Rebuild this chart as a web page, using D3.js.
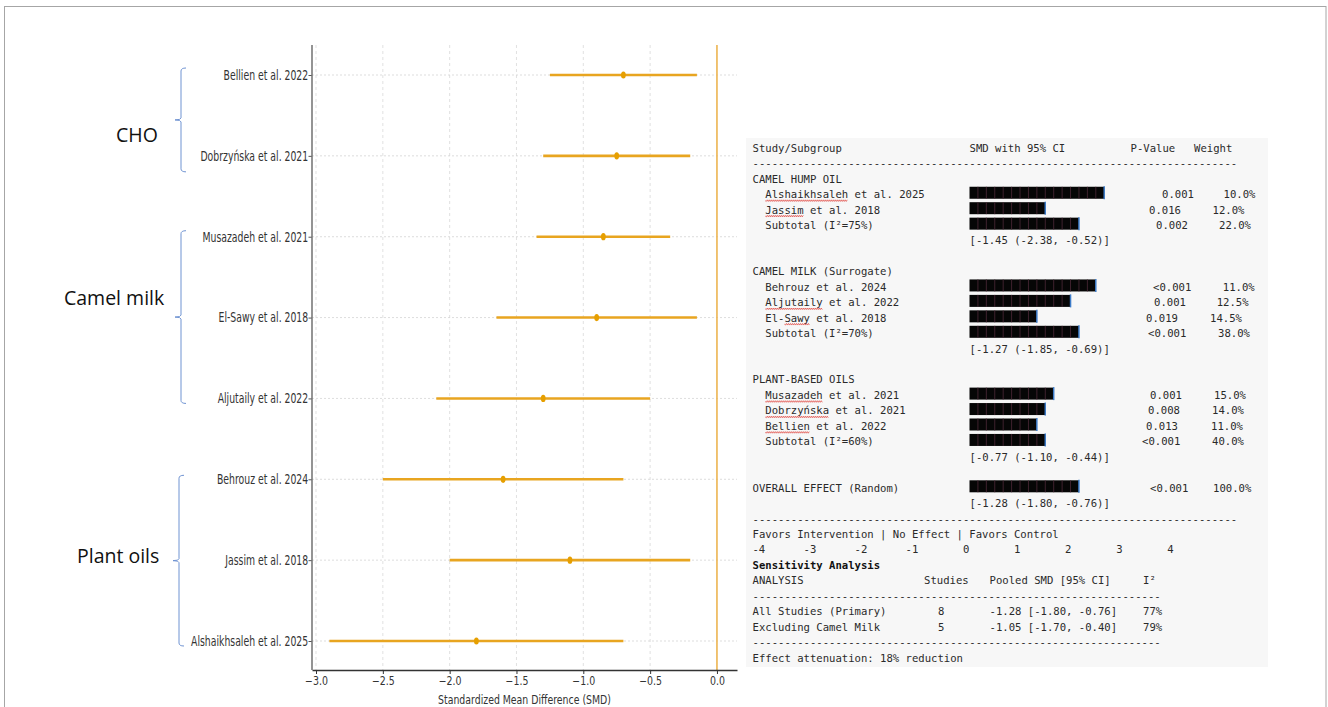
<!DOCTYPE html>
<html>
<head>
<meta charset="utf-8">
<script src="https://cdn.jsdelivr.net/npm/d3@7"></script>
<style>
body { margin: 0; background: #fff; }
svg { display: block; }
</style>
</head>
<body>
<div id="chart"></div>
<script>
// forest plot rows, top to bottom
var studies = ["Bellien et al. 2022", "Dobrzyńska et al. 2021", "Musazadeh et al. 2021", "El-Sawy et al. 2018",
  "Aljutaily et al. 2022", "Behrouz et al. 2024", "Jassim et al. 2018", "Alshaikhsaleh et al. 2025"];
var smd = [-0.7, -0.75, -0.85, -0.9, -1.3, -1.6, -1.1, -1.8];
var ciLow = [-1.25, -1.3, -1.35, -1.65, -2.1, -2.5, -2.0, -2.9];
var ciHigh = [-0.15, -0.2, -0.35, -0.15, -0.5, -0.7, -0.2, -0.7];
var xTicks = [-3.0, -2.5, -2.0, -1.5, -1.0, -0.5, 0.0];

// brace annotations on the left
var groupNames = ["CHO", "Camel milk", "Plant oils"];
var groupFirst = [0, 2, 5];
var groupLast = [1, 4, 7];

// summary table
var subgroups = ["CAMEL HUMP OIL", "CAMEL MILK (Surrogate)", "PLANT-BASED OILS"];
var subgroupStudies = [
  ["Alshaikhsaleh et al. 2025", "Jassim et al. 2018"],
  ["Behrouz et al. 2024", "Aljutaily et al. 2022", "El-Sawy et al. 2018"],
  ["Musazadeh et al. 2021", "Dobrzyńska et al. 2021", "Bellien et al. 2022"]];
var subgroupI2 = ["75%", "70%", "60%"];
var subgroupCI = ["[-1.45 (-2.38, -0.52)]", "[-1.27 (-1.85, -0.69)]", "[-0.77 (-1.10, -0.44)]"];
// bar length in block characters, last one of each group is the subtotal
var barBlocks = [[16, 9, 13], [15, 12, 8, 13], [10, 9, 8, 9]];
var pValues = [["0.001", "0.016", "0.002"], ["<0.001", "0.001", "0.019", "<0.001"], ["0.001", "0.008", "0.013", "<0.001"]];
var weights = [["10.0%", "12.0%", "22.0%"], ["11.0%", "12.5%", "14.5%", "38.0%"], ["15.0%", "14.0%", "11.0%", "40.0%"]];
var overallBlocks = 13;
var overallP = "<0.001";
var overallWeight = "100.0%";
var overallCI = "[-1.28 (-1.80, -0.76)]";
var favorsTicks = [-4, -3, -2, -1, 0, 1, 2, 3, 4];

var sensAnalysis = ["All Studies (Primary)", "Excluding Camel Milk"];
var sensStudies = [8, 5];
var sensPooled = ["-1.28 [-1.80, -0.76]", "-1.05 [-1.70, -0.40]"];
var sensI2 = ["77%", "79%"];
var misspelled = ["Alshaikhsaleh", "Jassim", "Aljutaily", "Sawy", "Musazadeh", "Dobrzyńska", "Bellien"];

var W = 1328, H = 707;
var svg = d3.select("#chart").append("svg")
  .attr("width", W)
  .attr("height", H);

svg.append("rect")
  .attr("x", 4.5).attr("y", 6.5)
  .attr("width", 1321.5).attr("height", 740)
  .attr("fill", "none")
  .attr("stroke", "#a6a6a6");

// ---------- forest plot ----------
var plotTop = 45, plotBottom = 670, plotLeft = 312, plotRight = 737;
var x = d3.scaleLinear().domain([-3.03, 0.15]).range([plotLeft, plotRight]);
var y = d3.scalePoint().domain(studies).range([75, 641]);

var sans = "'DejaVu Sans', Verdana, sans-serif";

svg.append("g").selectAll("line")
  .data(xTicks.slice(0, -1))
  .enter().append("line")
  .attr("x1", function(d) { return x(d); })
  .attr("x2", function(d) { return x(d); })
  .attr("y1", plotTop).attr("y2", plotBottom)
  .attr("stroke", "#d9d9d9")
  .attr("stroke-width", 0.8)
  .attr("stroke-dasharray", "3,3");

svg.append("g").selectAll("line")
  .data(studies)
  .enter().append("line")
  .attr("x1", plotLeft).attr("x2", plotRight)
  .attr("y1", function(d) { return y(d); })
  .attr("y2", function(d) { return y(d); })
  .attr("stroke", "#d4d4d4")
  .attr("stroke-width", 0.8)
  .attr("stroke-dasharray", "2,2");

svg.append("line")
  .attr("x1", x(0)).attr("x2", x(0))
  .attr("y1", plotTop).attr("y2", plotBottom)
  .attr("stroke", "#EDB450")
  .attr("stroke-width", 1.6);

svg.append("g").selectAll("line")
  .data(studies)
  .enter().append("line")
  .attr("x1", function(d, i) { return x(ciLow[i]); })
  .attr("x2", function(d, i) { return x(ciHigh[i]); })
  .attr("y1", function(d) { return y(d); })
  .attr("y2", function(d) { return y(d); })
  .attr("stroke", "#E8A520")
  .attr("stroke-width", 2.6);

svg.append("g").selectAll("ellipse")
  .data(studies)
  .enter().append("ellipse")
  .attr("cx", function(d, i) { return x(smd[i]); })
  .attr("cy", function(d) { return y(d); })
  .attr("rx", 2.4).attr("ry", 3.6)
  .attr("fill", "#E69F00");

// axes
var xAxis = svg.append("g")
  .attr("transform", "translate(0," + plotBottom + ")")
  .call(d3.axisBottom(x).tickValues(xTicks).tickFormat(d3.format(".1f")).tickSize(4).tickPadding(3).tickSizeOuter(0));
xAxis.select(".domain").attr("stroke", "#333").attr("stroke-width", 1.5);
xAxis.selectAll(".tick line").attr("stroke", "#333");
xAxis.selectAll("text")
  .attr("font-family", sans)
  .attr("font-size", 11.5)
  .attr("fill", "#333")
  .attr("transform", "scale(0.82,1)");

var yAxis = svg.append("g")
  .attr("transform", "translate(" + plotLeft + ",0)")
  .call(d3.axisLeft(y).tickSize(3.5).tickPadding(2).tickSizeOuter(0));
yAxis.select(".domain").remove();
yAxis.selectAll(".tick line").attr("stroke", "#555");
yAxis.selectAll("text")
  .attr("font-family", sans)
  .attr("font-size", 13.5)
  .attr("fill", "#333")
  .attr("transform", "scale(0.69,1)");

svg.append("line")
  .attr("x1", plotLeft).attr("x2", plotLeft)
  .attr("y1", plotTop).attr("y2", plotBottom)
  .attr("stroke", "#707070")
  .attr("stroke-width", 1.5);

svg.append("text")
  .attr("transform", "translate(" + ((plotLeft + plotRight) / 2) + ",704) scale(0.72,1)")
  .attr("text-anchor", "middle")
  .attr("font-family", sans)
  .attr("font-size", 13)
  .attr("fill", "#333")
  .text("Standardized Mean Difference (SMD)");

// braces and group names
var braceX = [181, 181, 179];
var bracePad = [[7, 16], [6, 5], [4, 5]];
var labelX = [116, 64, 77];
var labelY = [141.5, 305, 562.5];

function bracePath(bx, top, bot) {
  var mid = (top + bot) / 2, hook = 5, tick = 6;
  return "M" + (bx + hook) + "," + top +
    " Q" + bx + "," + top + " " + bx + "," + (top + 3) +
    " L" + bx + "," + (mid - 2) +
    " Q" + bx + "," + mid + " " + (bx - tick) + "," + mid +
    " Q" + bx + "," + mid + " " + bx + "," + (mid + 2) +
    " L" + bx + "," + (bot - 3) +
    " Q" + bx + "," + bot + " " + (bx + hook) + "," + bot;
}

groupNames.forEach(function(g, i) {
  var top = y(studies[groupFirst[i]]) - bracePad[i][0];
  var bot = y(studies[groupLast[i]]) + bracePad[i][1];
  svg.append("path")
    .attr("d", bracePath(braceX[i], top, bot))
    .attr("fill", "none")
    .attr("stroke", "#6f93d2")
    .attr("stroke-width", 1);
  svg.append("text")
    .attr("x", labelX[i]).attr("y", labelY[i])
    .attr("font-family", "'Open Sans', Lato, sans-serif")
    .attr("font-size", 19.5)
    .attr("fill", "#111")
    .text(g);
});

// ---------- summary table ----------
svg.append("rect")
  .attr("x", 746).attr("y", 138)
  .attr("width", 522).attr("height", 529)
  .attr("fill", "#f7f7f7");

var tbl = svg.append("g")
  .attr("font-family", "'DejaVu Sans Mono', 'Liberation Mono', monospace")
  .attr("font-size", 10.6)
  .attr("fill", "#2a2a2a");

var cw = 6.38, lh = 15.45, base0 = 151.7;
var col0 = 752.5, colIndent = col0 + 2 * cw, colBar = 969.5;
var pX = [1162, 1149, 1156, 1153, 1154, 1146, 1148, 1150, 1148, 1146, 1142, 1150];
var wX = [1223.5, 1212.6, 1219, 1222.8, 1216.7, 1210, 1218, 1214, 1212, 1211, 1212, 1213];

function ly(n) { return base0 + n * lh; }
function put(xp, n, s) {
  return tbl.append("text").attr("x", xp).attr("y", ly(n)).attr("xml:space", "preserve").text(s);
}

put(col0, 0, "Study/Subgroup");
put(colBar, 0, "SMD with 95% CI");
put(1130.5, 0, "P-Value");
put(1194, 0, "Weight");
put(col0, 1, "-".repeat(76));

var barRows = [], ciRows = [];
var n = 2;
subgroups.forEach(function(g, gi) {
  put(col0, n++, g);
  subgroupStudies[gi].concat(["Subtotal (I²=" + subgroupI2[gi] + ")"]).forEach(function(lbl, ri) {
    barRows.push({label: lbl, blocks: barBlocks[gi][ri], p: pValues[gi][ri], w: weights[gi][ri], line: n, indent: true});
    n++;
  });
  ciRows.push({text: subgroupCI[gi], line: n++});
  n++;
});
barRows.push({label: "OVERALL EFFECT (Random)", blocks: overallBlocks, p: overallP, w: overallWeight, line: n++, indent: false});
ciRows.push({text: overallCI, line: n++});

var blockX = d3.scaleLinear().domain([0, 1]).range([0, 8.42]);

barRows.forEach(function(r, k) {
  var lx = r.indent ? colIndent : col0;
  put(lx, r.line, r.label);
  put(pX[k], r.line, r.p);
  put(wX[k], r.line, r.w);

  var top = ly(r.line) - 11.3, bh = 12;
  tbl.append("rect")
    .attr("x", colBar).attr("y", top)
    .attr("width", blockX(r.blocks)).attr("height", bh)
    .attr("fill", "#060606");
  tbl.append("g").selectAll("line")
    .data(d3.range(1, r.blocks))
    .enter().append("line")
    .attr("x1", function(d) { return colBar + blockX(d); })
    .attr("x2", function(d) { return colBar + blockX(d); })
    .attr("y1", top).attr("y2", top + bh)
    .attr("stroke", "#4d2a38")
    .attr("stroke-width", 0.8);
  tbl.append("line")
    .attr("x1", colBar + blockX(r.blocks)).attr("x2", colBar + blockX(r.blocks))
    .attr("y1", top - 0.5).attr("y2", top + bh + 0.5)
    .attr("stroke", "#3d7cc9")
    .attr("stroke-width", 1.5);

  // spell-check squiggles under unknown names
  misspelled.forEach(function(word) {
    var idx = r.label.indexOf(word);
    if (idx < 0 || !r.indent) return;
    var x0 = lx + idx * cw, x1 = x0 + word.length * cw, yy = ly(r.line) + 2.6;
    var d = "M" + x0 + "," + yy;
    for (var xx = x0 + 1, s = 1; xx <= x1; xx += 1, s = -s) d += " L" + xx + "," + (yy + s * 0.8);
    tbl.append("path")
      .attr("d", d)
      .attr("fill", "none")
      .attr("stroke", "#e0403a")
      .attr("stroke-width", 0.7);
  });
});

ciRows.forEach(function(c) { put(colBar, c.line, c.text); });

put(col0, n++, "-".repeat(76));
put(col0, n++, "Favors Intervention | No Effect | Favors Control");

var favorScale = d3.scaleLinear().domain([-4, 4]).range([col0 + 2 * cw, col0 + 66 * cw]);
tbl.append("g").selectAll("text")
  .data(favorsTicks)
  .enter().append("text")
  .attr("x", function(d) { return favorScale(d); })
  .attr("y", ly(n))
  .attr("text-anchor", "end")
  .text(function(d) { return String(d); });
n++;

put(col0, n++, "Sensitivity Analysis").attr("font-weight", "bold").attr("fill", "#111");
var colStudies = 924, colN = 938, colPooled = 989.5, colI2 = 1143;
put(col0, n, "ANALYSIS");
put(colStudies, n, "Studies");
put(colPooled, n, "Pooled SMD [95% CI]");
put(colI2, n, "I²");
n++;
put(col0, n++, "-".repeat(64));
sensAnalysis.forEach(function(a, i) {
  put(col0, n, a);
  put(colN, n, String(sensStudies[i]));
  put(colPooled, n, sensPooled[i]);
  put(colI2, n, sensI2[i]);
  n++;
});
put(col0, n++, "-".repeat(64));
put(col0, n++, "Effect attenuation: 18% reduction");
</script>
</body>
</html>
